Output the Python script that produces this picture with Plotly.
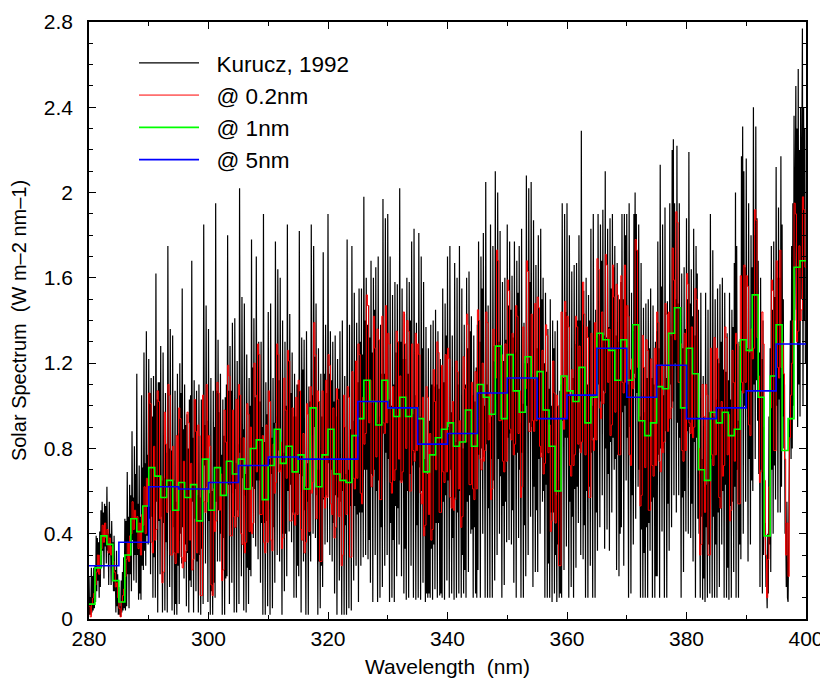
import numpy as np
import plotly.graph_objects as go

# ---------------- data ----------------
# Kurucz (1992) high-resolution spectrum, sampled every 0.1 nm from 280.0 nm
kurucz = [
    0.20,0.02,0.10,0.02,0.24,0.03,0.20,0.04,0.24,0.05,  # 280
    0.25,0.08,0.39,0.13,0.38,0.18,0.36,0.10,0.41,0.15,
    0.51,0.24,0.55,0.32,0.50,0.19,0.54,0.34,0.53,0.26,
    0.62,0.32,0.40,0.16,0.55,0.30,0.40,0.16,0.46,0.25,
    0.36,0.13,0.39,0.13,0.23,0.03,0.32,0.06,0.21,0.02,
    0.15,0.02,0.06,0.01,0.18,0.03,0.22,0.04,0.29,0.05,  # 285
    0.47,0.04,0.46,0.06,0.69,0.21,0.48,0.05,0.63,0.21,
    0.58,0.13,0.88,0.37,0.57,0.18,0.81,0.30,0.68,0.17,
    1.15,0.30,0.54,0.09,0.72,0.12,0.48,0.09,1.05,0.25,
    0.71,0.23,1.25,0.32,0.73,0.25,1.35,0.39,0.77,0.35,
    1.22,0.47,1.06,0.21,1.13,0.48,0.95,0.10,1.14,0.29,  # 290
    1.00,0.10,1.62,0.55,1.03,0.03,1.11,0.46,1.11,0.21,
    1.28,0.48,0.65,0.03,1.25,0.45,0.66,0.04,1.06,0.36,
    0.78,0.03,1.75,0.62,0.80,0.15,1.36,0.51,0.79,0.04,
    1.33,0.43,0.65,0.02,1.07,0.07,0.55,0.02,1.15,0.25,
    0.87,0.07,1.20,0.40,1.06,0.26,1.55,0.43,0.89,0.19,  # 295
    1.10,0.35,0.91,0.06,0.96,0.31,0.80,0.03,1.03,0.18,
    1.05,0.15,1.68,0.55,0.85,0.03,1.12,0.47,1.03,0.13,
    1.07,0.27,0.58,0.03,1.10,0.30,0.57,0.02,1.03,0.33,
    0.82,0.07,1.85,0.72,0.91,0.26,1.47,0.62,0.93,0.08,
    1.36,0.46,0.59,0.02,1.13,0.13,0.60,0.02,1.07,0.17,  # 300
    0.90,0.10,1.95,0.55,1.07,0.27,1.31,0.51,0.97,0.27,
    1.15,0.40,0.77,0.02,1.03,0.38,0.86,0.02,1.04,0.19,
    1.10,0.20,1.80,0.63,1.07,0.07,1.28,0.63,1.07,0.17,
    1.39,0.59,0.71,0.03,1.41,0.61,0.73,0.03,1.21,0.51,
    0.82,0.07,2.02,0.78,0.85,0.20,1.51,0.66,0.89,0.04,  # 305
    1.48,0.58,0.68,0.03,1.24,0.24,0.72,0.07,1.13,0.23,
    1.00,0.20,1.78,0.62,1.18,0.38,1.41,0.61,1.04,0.34,
    1.70,0.65,1.13,0.28,1.30,0.65,1.02,0.17,1.30,0.45,
    0.90,0.02,1.90,0.45,0.83,0.02,1.11,0.46,0.96,0.06,
    1.44,0.64,0.75,0.02,1.48,0.68,0.85,0.05,1.13,0.43,  # 310
    0.92,0.17,1.77,0.92,0.95,0.30,1.64,0.79,1.12,0.27,
    1.60,0.70,0.77,0.02,1.40,0.40,0.78,0.13,1.30,0.40,
    1.00,0.20,1.85,0.60,1.21,0.41,1.43,0.63,1.06,0.36,
    1.25,0.50,0.95,0.10,1.15,0.50,0.95,0.10,1.10,0.25,
    1.10,0.20,1.82,0.68,1.03,0.03,1.32,0.67,1.17,0.27,  # 315
    1.31,0.51,0.62,0.02,1.35,0.55,0.73,0.02,1.09,0.39,
    1.02,0.27,1.85,1.00,1.05,0.40,1.75,0.90,1.23,0.38,
    1.48,0.58,0.70,0.02,1.27,0.27,0.70,0.05,1.15,0.25,
    0.95,0.15,1.72,0.56,1.15,0.35,1.38,0.58,1.06,0.36,
    1.90,0.73,1.15,0.30,1.35,0.70,1.12,0.27,1.30,0.45,  # 320
    1.02,0.12,1.33,0.58,0.95,0.02,1.22,0.57,1.08,0.18,
    1.35,0.55,0.66,0.02,1.40,0.60,0.75,0.02,1.14,0.44,
    0.68,0.02,1.78,0.65,0.70,0.05,1.38,0.53,0.89,0.04,
    1.75,0.85,0.93,0.18,1.53,0.53,0.90,0.25,1.39,0.49,
    1.11,0.08,1.55,0.50,1.30,0.25,1.55,0.50,1.24,0.29,  # 325
    1.98,0.70,1.40,0.30,1.60,0.70,1.38,0.28,1.47,0.37,
    1.32,0.17,1.68,0.68,1.25,0.08,1.60,0.70,1.45,0.30,
    1.65,0.60,0.92,0.08,1.70,0.65,0.95,0.10,1.38,0.43,
    1.15,0.15,1.97,0.87,1.15,0.25,1.88,0.78,1.40,0.30,
    1.90,0.75,1.03,0.08,1.70,0.45,1.00,0.10,1.52,0.37,  # 330
    1.10,0.08,1.58,0.53,1.25,0.20,1.57,0.52,1.30,0.35,
    2.02,0.65,1.30,0.20,1.55,0.65,1.22,0.12,1.43,0.33,
    1.22,0.09,1.60,0.60,1.15,0.10,1.58,0.68,1.40,0.25,
    1.77,0.72,0.96,0.10,1.83,0.78,1.05,0.09,1.39,0.44,
    0.92,0.10,1.81,0.71,0.95,0.09,1.70,0.60,1.27,0.17,  # 335
    1.58,0.43,0.75,0.08,1.37,0.12,0.68,0.10,1.27,0.12,
    0.93,0.10,1.38,0.33,1.10,0.09,1.40,0.35,1.09,0.14,
    1.45,0.45,1.10,0.10,1.35,0.45,1.08,0.11,1.22,0.12,
    1.18,0.10,1.55,0.55,1.11,0.09,1.48,0.58,1.33,0.18,
    1.70,0.65,0.90,0.10,1.75,0.70,0.97,0.12,1.33,0.38,  # 340
    0.80,0.09,1.67,0.57,0.83,0.10,1.60,0.50,1.10,0.12,
    1.75,0.60,0.87,0.10,1.55,0.30,0.80,0.12,1.38,0.23,
    1.10,0.10,1.60,0.55,1.27,0.22,1.63,0.58,1.35,0.40,
    1.42,0.42,1.05,0.10,1.33,0.43,1.02,0.12,1.18,0.10,
    1.38,0.23,1.77,0.77,1.30,0.10,1.70,0.80,1.55,0.40,  # 345
    1.81,0.76,1.00,0.10,2.05,0.82,1.10,0.10,1.47,0.52,
    0.92,0.10,1.85,0.75,0.95,0.10,1.75,0.65,1.28,0.18,
    2.10,1.03,1.30,0.30,2.00,0.75,1.30,0.40,1.82,0.67,
    1.05,0.10,1.58,0.53,1.21,0.16,1.60,0.55,1.31,0.36,
    1.85,0.85,1.47,0.37,1.77,0.87,1.45,0.35,1.61,0.51,  # 350
    1.32,0.17,1.77,0.77,1.25,0.10,1.68,0.78,1.53,0.38,
    1.75,0.70,0.92,0.10,1.83,0.78,1.01,0.10,1.39,0.44,
    1.20,0.20,2.08,1.00,1.20,0.30,2.02,0.92,1.58,0.48,
    2.05,0.90,1.15,0.15,1.87,0.62,1.12,0.22,1.66,0.51,
    1.27,0.22,1.80,0.75,1.45,0.40,1.83,0.78,1.50,0.55,  # 355
    1.60,0.60,1.20,0.10,1.53,0.63,1.16,0.10,1.36,0.26,
    1.08,0.10,1.50,0.50,1.00,0.08,1.40,0.50,1.27,0.12,
    1.35,0.30,0.58,0.08,1.40,0.35,0.65,0.10,1.07,0.12,
    1.10,0.10,1.95,0.93,1.13,0.23,1.90,0.85,1.44,0.34,
    1.95,0.85,1.07,0.10,1.80,0.55,1.05,0.15,1.63,0.48,  # 360
    1.13,0.10,1.66,0.61,1.29,0.24,1.67,0.62,1.40,0.45,
    1.80,0.80,1.40,0.30,2.29,0.83,1.38,0.28,1.54,0.44,
    1.18,0.10,1.60,0.60,1.10,0.10,1.52,0.62,1.40,0.25,
    1.83,0.78,1.00,0.10,1.90,0.85,1.07,0.10,1.45,0.50,
    1.32,0.32,1.90,1.10,1.33,0.43,1.85,1.02,1.68,0.58,  # 365
    1.92,1.07,1.33,0.33,2.10,0.80,1.32,0.42,1.83,0.68,
    1.37,0.32,1.88,0.83,1.55,0.50,1.90,0.85,1.65,0.70,
    1.75,0.75,1.33,0.23,1.67,0.77,1.30,0.20,1.50,0.40,
    1.58,0.43,1.90,0.97,1.50,0.25,1.90,1.00,1.80,0.65,
    1.90,0.85,1.10,0.10,1.95,0.90,1.17,0.12,1.53,0.58,  # 370
    1.35,0.35,1.90,1.15,2.00,0.47,1.90,1.06,1.72,0.62,
    1.85,0.70,0.95,0.10,1.67,0.42,0.92,0.10,1.46,0.31,
    0.97,0.10,1.48,0.43,1.13,0.10,1.50,0.45,1.27,0.32,
    1.55,0.55,1.13,0.10,1.47,0.57,1.10,0.10,1.30,0.20,
    1.35,0.20,1.77,0.77,1.27,0.10,2.13,0.80,1.56,0.41,  # 375
    1.85,0.80,1.05,0.10,1.93,0.88,1.13,0.10,1.49,0.54,
    1.32,0.32,1.95,1.10,1.33,0.43,2.20,1.02,2.25,0.58,
    1.95,1.20,1.50,0.50,2.22,0.92,1.48,0.58,1.95,0.85,
    1.10,0.10,1.62,0.57,1.27,0.22,1.65,0.60,1.36,0.41,
    1.88,0.88,1.50,0.40,2.19,0.90,1.48,0.38,1.64,0.54,  # 380
    1.42,0.27,1.83,0.83,1.33,0.10,1.75,0.85,1.62,0.47,
    1.45,0.40,0.68,0.10,1.53,0.48,0.75,0.09,1.14,0.19,
    0.62,0.08,1.53,0.43,0.63,0.10,1.45,0.35,0.97,0.12,
    1.90,0.75,0.97,0.10,1.73,0.48,0.95,0.10,1.50,0.35,
    1.03,0.10,1.55,0.50,1.20,0.15,1.57,0.52,1.30,0.35,  # 385
    1.60,0.60,1.17,0.10,1.53,0.63,1.16,0.10,1.34,0.24,
    1.12,0.09,1.53,0.53,1.03,0.10,1.45,0.55,1.37,0.22,
    1.67,0.62,2.00,0.10,1.75,0.70,0.93,0.10,1.30,0.35,
    1.28,0.28,2.17,1.07,2.31,0.40,2.10,1.00,1.65,0.55,
    2.16,1.03,1.27,0.27,1.95,0.75,1.25,0.35,1.80,0.65,  # 390
    1.65,0.60,2.40,1.10,1.80,0.75,2.31,1.12,1.88,0.93,
    1.68,0.68,1.25,0.15,1.60,0.70,1.22,0.12,1.40,0.30,
    0.90,0.40,0.45,0.15,0.18,0.05,0.40,0.12,0.95,0.35,
    1.27,0.22,1.75,0.70,1.45,0.40,1.77,0.72,1.51,0.56,
    2.12,1.00,1.60,0.50,1.93,1.03,1.60,0.50,2.17,0.62,  # 395
    1.85,0.95,1.50,0.80,1.10,0.40,0.45,0.15,0.55,0.10,
    0.08,0.35,0.60,1.15,1.40,0.75,1.75,0.80,1.95,1.00,
    2.36,1.40,1.90,2.50,1.45,2.30,0.90,2.58,1.10,2.20,
    0.95,2.40,1.50,2.25,2.77,1.00,2.40,1.40,2.30,1.20,
]

# degraded to 0.2 nm bins (left edges from 280.0 nm), one row per 3 nm
res_02nm = [
    0.06,0.01,0.07,0.10,0.12, 0.16,0.22,0.30,0.21,0.30, 0.33,0.44,0.36,0.45,0.38,  # 280
    0.42,0.31,0.38,0.30,0.34, 0.27,0.22,0.15,0.17,0.10, 0.05,0.01,0.08,0.11,0.14,
    0.20,0.28,0.36,0.27,0.39, 0.40,0.55,0.42,0.51,0.47, 0.48,0.33,0.45,0.30,0.49,
    0.44,0.62,0.40,0.66,0.53, 1.06,1.01,0.36,0.31,0.81, 0.37,0.42,1.07,1.02,0.47,  # 289
    0.67,0.17,0.22,0.97,0.82, 0.50,1.10,1.05,0.30,0.30, 0.81,0.31,0.26,0.86,0.31,
    0.99,0.94,0.29,0.24,0.74, 0.27,0.32,0.97,0.92,0.37, 0.73,0.23,0.28,1.03,0.88,
    0.31,0.91,0.86,0.11,0.11, 1.05,0.55,0.50,1.10,0.55, 0.86,0.81,0.16,0.11,0.61,  # 298
    0.41,0.46,1.11,1.06,0.51, 0.68,0.18,0.23,0.98,0.83, 0.59,1.19,1.14,0.39,0.39,
    0.98,0.48,0.43,1.03,0.48, 1.10,1.05,0.40,0.35,0.85, 0.31,0.36,1.01,0.96,0.41,
    0.90,0.40,0.45,1.20,1.05, 0.69,1.29,1.24,0.49,0.49, 0.86,0.36,0.31,0.91,0.36,  # 307
    1.07,1.02,0.37,0.32,0.82, 0.59,0.64,1.29,1.24,0.69, 0.83,0.33,0.38,1.13,0.98,
    0.66,1.26,1.21,0.46,0.46, 0.99,0.49,0.44,1.04,0.49, 1.12,1.07,0.42,0.37,0.87,
    0.31,0.36,1.01,0.96,0.41, 1.09,0.59,0.64,1.39,1.24, 0.47,1.07,1.02,0.27,0.27,  # 316
    1.07,0.57,0.52,1.12,0.57, 1.24,1.19,0.54,0.49,0.99, 0.38,0.43,1.08,1.03,0.48,
    0.75,0.25,0.30,1.05,0.90, 0.49,1.09,1.04,0.29,0.29, 1.16,0.66,0.61,1.21,0.66,
    1.29,1.24,0.59,0.54,1.04, 0.82,0.87,1.52,1.47,0.92, 1.12,0.62,0.67,1.42,1.27,  # 325
    0.76,1.36,1.31,0.56,0.56, 1.42,0.92,0.87,1.47,0.92, 1.34,1.29,0.64,0.59,1.09,
    0.65,0.70,1.35,1.30,0.75, 1.14,0.64,0.69,1.44,1.29, 0.80,1.40,1.35,0.60,0.60,
    1.29,0.79,0.74,1.34,0.79, 1.29,1.24,0.59,0.54,1.04, 0.39,0.44,1.09,1.04,0.49,  # 334
    0.87,0.37,0.42,1.17,1.02, 0.70,1.30,1.25,0.50,0.50, 1.19,0.69,0.64,1.24,0.69,
    1.27,1.22,0.57,0.52,1.02, 0.51,0.56,1.21,1.16,0.61, 0.93,0.43,0.48,1.23,1.08,
    0.83,1.43,1.38,0.63,0.63, 1.11,0.61,0.56,1.16,0.61, 1.45,1.40,0.75,0.70,1.20,  # 343
    0.74,0.79,1.44,1.39,0.84, 1.06,0.56,0.61,1.36,1.21, 1.13,1.73,1.68,0.93,0.93,
    1.24,0.74,0.69,1.29,0.74, 1.59,1.54,0.89,0.84,1.34, 0.77,0.82,1.47,1.42,0.87,
    1.07,0.57,0.62,1.37,1.22, 1.08,1.68,1.63,0.88,0.88, 1.43,0.93,0.88,1.48,0.93,  # 352
    1.51,1.46,0.81,0.76,1.26, 0.68,0.73,1.38,1.33,0.78, 0.91,0.41,0.46,1.21,1.06,
    0.45,1.05,1.00,0.25,0.25, 1.44,0.94,0.89,1.49,0.94, 1.42,1.37,0.72,0.67,1.17,
    0.72,0.77,1.42,1.37,0.82, 1.28,0.78,0.83,1.58,1.43, 0.77,1.37,1.32,0.57,0.57,  # 361
    1.34,0.84,0.79,1.39,0.84, 1.69,1.64,0.99,0.94,1.44, 1.01,1.06,1.71,1.66,1.11,
    1.36,0.86,0.91,1.66,1.51, 0.97,1.57,1.52,0.77,0.77, 1.61,1.11,1.06,1.66,1.11,
    1.47,1.42,0.77,0.72,1.22, 1.08,1.13,1.78,1.73,1.18, 1.03,0.53,0.58,1.33,1.18,  # 370
    0.71,1.31,1.26,0.51,0.51, 1.22,0.72,0.67,1.27,0.72, 1.44,1.39,0.74,0.69,1.19,
    0.78,0.83,1.48,1.43,0.88, 1.44,0.94,0.99,1.74,1.59, 1.31,1.91,1.86,1.11,1.11,
    1.29,0.79,0.74,1.34,0.79, 1.62,1.57,0.92,0.87,1.37, 0.85,0.90,1.55,1.50,0.95,  # 379
    0.80,0.30,0.35,1.10,0.95, 0.50,1.10,1.05,0.30,0.30, 1.27,0.77,0.72,1.32,0.77,
    1.27,1.22,0.57,0.52,1.02, 0.67,0.72,1.37,1.32,0.77, 0.96,0.46,0.51,1.26,1.11,
    0.74,1.34,1.29,0.54,0.54, 1.61,1.11,1.06,1.66,1.11, 1.61,1.56,0.91,0.86,1.36,  # 388
    1.22,1.27,1.92,1.87,1.32, 1.14,0.64,0.69,1.44,1.29, 0.65,0.30,0.10,0.28,0.62,
    0.99,1.59,1.54,0.79,0.79, 1.68,1.18,1.13,1.73,1.18, 1.30,1.15,0.75,0.30,0.45,
    0.20,0.85,1.05,1.20,1.40, 1.95,1.90,1.30,1.35,1.75, 1.40,1.45,1.98,1.92,1.65,  # 397
]

# degraded to 1 nm bins (280-281, ..., 399-400)
res_1nm = [
    0.07,0.24,0.39,0.35,0.18, 0.08,0.30,0.47,0.41,0.53,
    0.71,0.67,0.57,0.65,0.51, 0.64,0.57,0.63,0.46,0.75,
    0.51,0.71,0.58,0.74,0.68, 0.75,0.61,0.80,0.84,0.56,
    0.72,0.89,0.73,0.81,0.69, 0.77,0.61,0.99,0.62,0.77,
    0.89,0.68,0.65,0.64,0.86, 0.94,1.12,1.02,0.91,1.12,
    0.99,0.95,1.04,0.95,0.99, 0.94,0.69,0.77,0.85,0.89,
    0.92,0.81,0.83,0.98,0.81, 1.10,1.04,0.96,1.28,0.94,
    1.24,1.07,0.97,1.23,1.13, 1.16,0.98,0.81,0.60,1.14,
    1.07,1.02,1.18,0.92,1.04, 1.34,1.31,1.26,1.12,1.31,
    1.12,1.38,0.93,0.86,0.92, 1.09,1.08,1.34,1.46,0.99,
    1.27,1.15,0.70,0.65,0.97, 0.92,0.97,0.86,0.89,1.31,
    1.26,1.52,1.04,0.39,1.14, 1.38,0.79,0.94,1.65,1.68,
]

# degraded to 5 nm bins (280-285, ..., 395-400)
res_5nm = [0.25, 0.36, 0.62, 0.61, 0.64, 0.72, 0.76, 0.75, 0.75, 1.02, 0.99, 0.82,
           0.87, 1.06, 1.13, 0.94, 1.05, 1.27, 1.04, 1.19, 0.94, 0.99, 1.07, 1.29]

series_names = ["Kurucz, 1992", "@ 0.2nm", "@ 1nm", "@ 5nm"]
x_ticks = [280, 300, 320, 340, 360, 380, 400]
y_ticks = [0, 0.4, 0.8, 1.2, 1.6, 2.0, 2.4, 2.8]
y_ticktext = ["0", "0.4", "0.8", "1.2", "1.6", "2", "2.4", "2.8"]

WL_MIN, WL_MAX = 280.0, 400.0


def bin_edges(values, width):
    """Left edge of every bin, plus the closing edge at WL_MAX."""
    edges = np.round(WL_MIN + width * np.arange(len(values) + 1), 3)
    return edges, list(values) + [values[-1]]


wl_k = np.round(WL_MIN + 0.1 * np.arange(len(kurucz)), 3)
x02, y02 = bin_edges(res_02nm, 0.2)
x1, y1 = bin_edges(res_1nm, 1.0)
x5, y5 = bin_edges(res_5nm, 5.0)

GAP = "\u00a0\u00a0"  # extra room between legend sample line and label

fig = go.Figure()
fig.add_trace(go.Scatter(x=wl_k, y=kurucz, mode="lines", name=GAP + series_names[0],
                         line=dict(color="black", width=1.2)))
fig.add_trace(go.Scatter(x=x02, y=y02, mode="lines", name=GAP + series_names[1],
                         line=dict(color="#ff0000", width=1, shape="hv")))
fig.add_trace(go.Scatter(x=x1, y=y1, mode="lines", name=GAP + series_names[2],
                         line=dict(color="#00ff00", width=1.6, shape="hv")))
fig.add_trace(go.Scatter(x=x5, y=y5, mode="lines", name=GAP + series_names[3],
                         line=dict(color="#0000ff", width=1.6, shape="hv")))

FONT = "Liberation Sans, Arial, Helvetica, sans-serif"

# the page body adds an 8 px margin; the figure is sized so that the whole
# page is 828 x 682 with the plot frame at x 89-806, y 22-619
fig.update_layout(
    width=820, height=674,
    margin=dict(l=81, r=22, t=14, b=63, pad=0, autoexpand=False),
    paper_bgcolor="white", plot_bgcolor="white",
    font=dict(family=FONT, size=21, color="black"),
    showlegend=True,
    legend=dict(x=0.0628, y=0.967, xanchor="left", yanchor="top",
                bgcolor="rgba(0,0,0,0)", borderwidth=0,
                font=dict(family=FONT, size=22.5, color="black"),
                itemwidth=60, tracegroupgap=0),
)
fig.update_xaxes(
    range=[WL_MIN, WL_MAX], tickmode="array", tickvals=x_ticks,
    ticks="inside", ticklen=7, tickwidth=1, tickcolor="black",
    minor=dict(dtick=10, tick0=280, ticks="inside", ticklen=4, tickcolor="black", showgrid=False),
    showline=True, linecolor="black", linewidth=1.5, mirror="allticks",
    showgrid=False, zeroline=False, automargin=False,
    tickfont=dict(family=FONT, size=21, color="black"),
    title=dict(text="Wavelength\u00a0 (nm)", font=dict(family=FONT, size=21, color="black"), standoff=10),
)
fig.update_yaxes(
    range=[0, 2.8], tickmode="array", tickvals=y_ticks, ticktext=y_ticktext,
    ticks="inside", ticklen=7, tickwidth=1, tickcolor="black",
    minor=dict(dtick=0.1, tick0=0, ticks="inside", ticklen=4, tickcolor="black", showgrid=False),
    showline=True, linecolor="black", linewidth=1.5, mirror="allticks",
    showgrid=False, zeroline=False, automargin=False, ticklabelstandoff=10,
    tickfont=dict(family=FONT, size=21, color="black"),
    title=dict(text="Solar Spectrum\u00a0 (W m\u20132 nm\u20131)", font=dict(family=FONT, size=20, color="black"), standoff=12),
)

fig.write_html("out.html")
